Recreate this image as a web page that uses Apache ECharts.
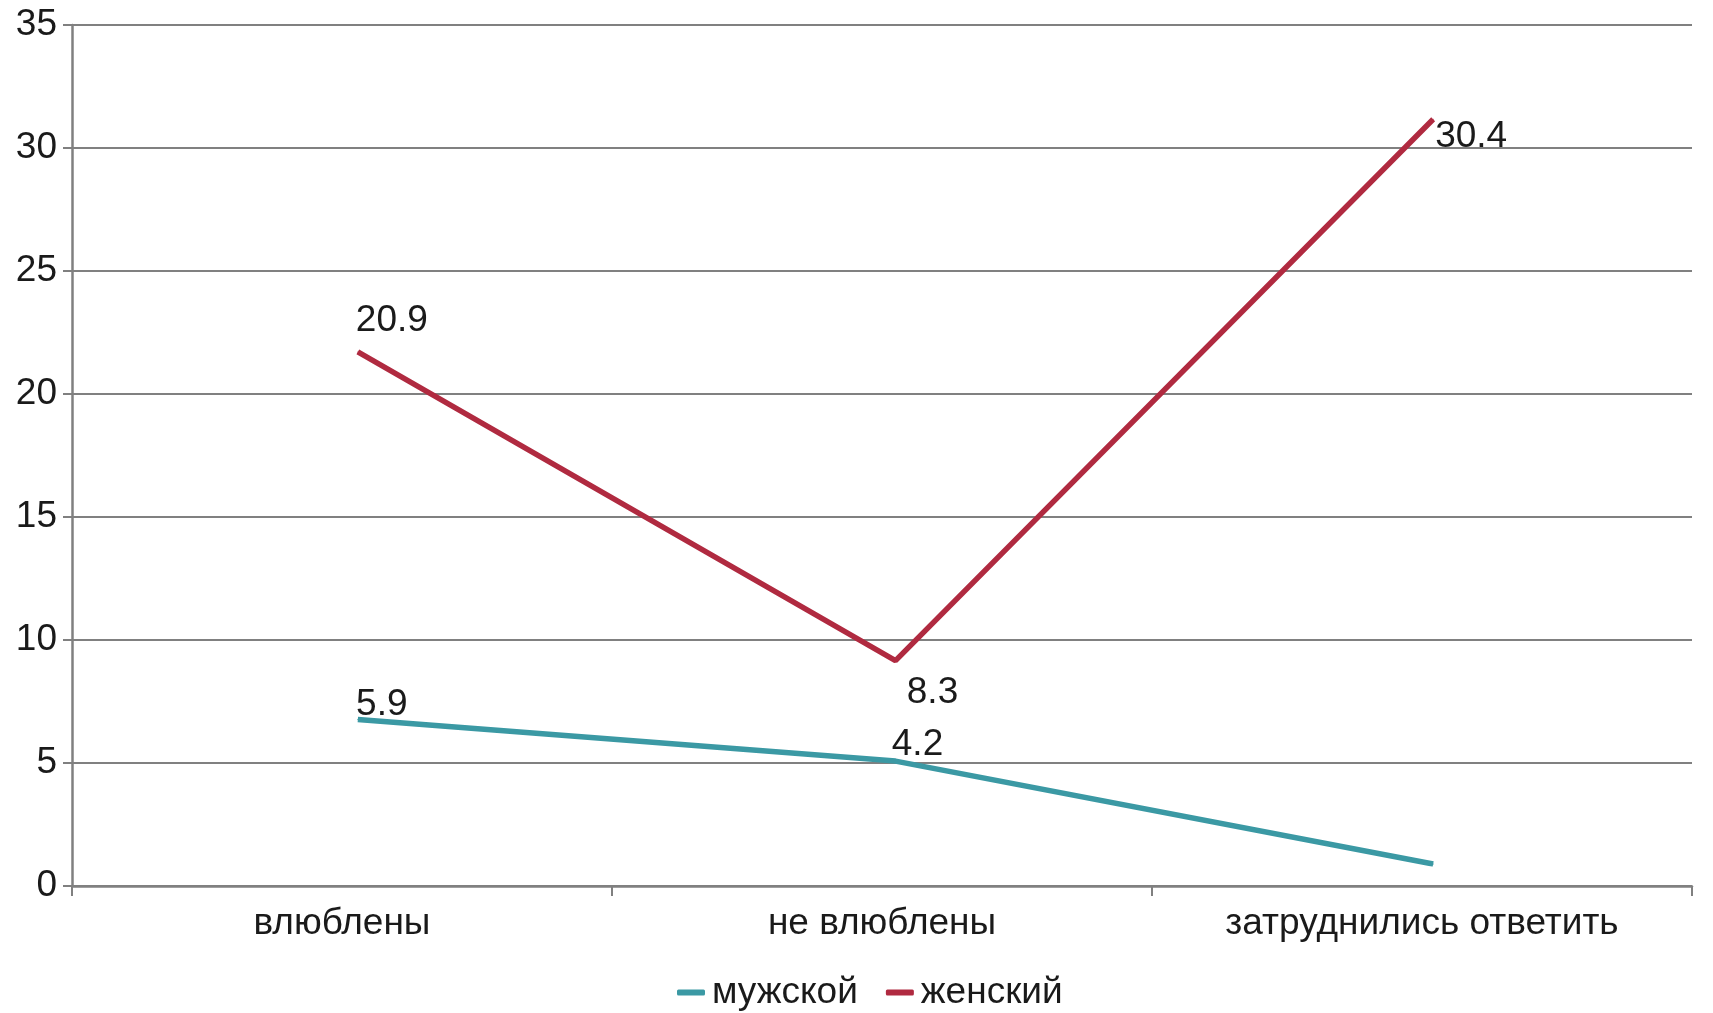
<!DOCTYPE html>
<html>
<head>
<meta charset="utf-8">
<script src="https://cdn.jsdelivr.net/npm/echarts@6/dist/echarts.min.js"></script>
<style>
html,body{margin:0;padding:0;background:#fff;}
#chart{width:1713px;height:1013px;}
</style>
</head>
<body>
<div id="chart"></div>
<script>
var categories = ['влюблены', 'не влюблены', 'затруднились ответить'];
var seriesNames = ['мужской', 'женский'];
var maleValues = [5.9, 4.2, 0];
var femaleValues = [20.9, 8.3, 30.4];
var yMin = 0, yMax = 35, yStep = 5;

var FONT = '"Liberation Sans", Arial, sans-serif';
var FS = 37;
var TXT = '#1a1a1a';
var AX = '#808080';
var maleColor = '#3b99a4';
var femaleColor = '#b02a40';

var maleOffsets = [[24, -15], [22, -16], null];
var femaleOffsets = [[34, -31], [37, 32], [38, 18]];

function build(vals, offs) {
  return vals.map(function (v, i) {
    var o = offs[i];
    if (!o) return { value: v, label: { show: false } };
    return { value: v, label: { show: true, offset: o } };
  });
}

var chart = echarts.init(document.getElementById('chart'));
chart.setOption({
  animation: false,
  backgroundColor: '#fff',
  textStyle: { fontFamily: FONT },
  grid: [
    { left: 72, right: 21, top: 25, bottom: 127 },
    { left: 89, right: 11, top: 6.5, bottom: 149 }
  ],
  legend: {
    data: seriesNames,
    left: 677,
    top: 974,
    padding: 0,
    icon: 'roundRect',
    itemWidth: 28,
    itemHeight: 6,
    itemGap: 28,
    textStyle: { fontSize: FS, color: TXT, fontFamily: FONT, padding: [0, 0, 0, 2] }
  },
  xAxis: [
    {
      type: 'category', gridIndex: 0, data: categories, boundaryGap: true,
      axisLine: { lineStyle: { color: AX, width: 2.5 } },
      axisTick: { show: true, length: 10, lineStyle: { color: AX, width: 2 } },
      axisLabel: { fontSize: FS, color: TXT, margin: 19, fontFamily: FONT, interval: 0 },
      splitLine: { show: false }
    },
    {
      type: 'category', gridIndex: 1, data: categories, boundaryGap: true, show: false
    }
  ],
  yAxis: [
    {
      type: 'value', gridIndex: 0, min: yMin, max: yMax, interval: yStep,
      axisLine: { show: true, lineStyle: { color: AX, width: 2.5 } },
      axisTick: { show: true, length: 9, lineStyle: { color: AX, width: 2 } },
      axisLabel: { fontSize: FS, color: TXT, margin: 15, fontFamily: FONT },
      splitLine: { show: true, lineStyle: { color: AX, width: 2 } }
    },
    {
      type: 'value', gridIndex: 1, min: yMin, max: yMax, interval: yStep, show: false,
      splitLine: { show: false }
    }
  ],
  series: [
    {
      name: seriesNames[0], type: 'line', xAxisIndex: 1, yAxisIndex: 1,
      data: build(maleValues, maleOffsets),
      symbol: 'circle', symbolSize: 1,
      lineStyle: { color: maleColor, width: 5.5 },
      itemStyle: { color: maleColor },
      label: { show: true, position: 'inside', fontSize: FS, color: TXT, fontFamily: FONT },
      emphasis: { disabled: true }
    },
    {
      name: seriesNames[1], type: 'line', xAxisIndex: 1, yAxisIndex: 1,
      data: build(femaleValues, femaleOffsets),
      symbol: 'circle', symbolSize: 1,
      lineStyle: { color: femaleColor, width: 5.5 },
      itemStyle: { color: femaleColor },
      label: { show: true, position: 'inside', fontSize: FS, color: TXT, fontFamily: FONT },
      emphasis: { disabled: true }
    }
  ]
});
</script>
</body>
</html>
